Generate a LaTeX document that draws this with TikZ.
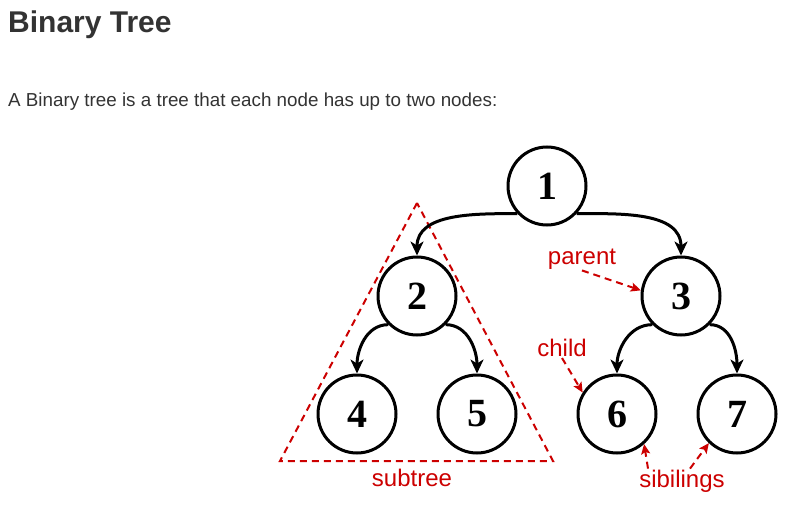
\documentclass[tikz,border=0pt]{standalone}
\usepackage{fontspec}
\setmainfont{Liberation Sans}
\newfontfamily\digitfont{Liberation Serif}
\usetikzlibrary{arrows.meta}
\definecolor{notered}{HTML}{CC0000}
\definecolor{headgray}{HTML}{333333}

\begin{document}
\begin{tikzpicture}[x=1pt,y=-1pt,
  vertex/.style={circle,draw,line width=3pt,minimum size=78pt,inner sep=0pt,
    font=\digitfont\bfseries\fontsize{40}{40}\selectfont},
  edge/.style={line width=3pt,-{Stealth[length=14pt,width=13pt,inset=4pt]}},
  note/.style={text=notered,inner sep=1pt,font=\fontsize{24}{24}\selectfont},
  hint/.style={draw=notered,line width=2pt,dash pattern=on 7pt off 5pt,
    -{Stealth[length=10pt,width=9pt,inset=2pt]}}]
\useasboundingbox (0,0) rectangle (792,508);
\node[anchor=base west,inner sep=0pt,text=headgray,font=\bfseries\fontsize{30}{30}\selectfont] (title) at (8,33) {Binary Tree};
\node[anchor=base west,inner sep=0pt,text=headgray,font=\fontsize{18.8}{18.8}\selectfont] (intro) at (8,107) {A Binary tree is a tree that each node has up to two nodes:};
% subtree outline
\draw[notered,line width=2pt,dash pattern=on 7pt off 5pt] (417,203) -- (280,461) -- (553,461) -- cycle;
% the tree
\node[vertex] (n1) at (547,186) {1};
\node[vertex] (n2) at (417,296) {2};
\node[vertex] (n3) at (681,296) {3};
\node[vertex] (n4) at (357,414) {4};
\node[vertex] (n5) at (477,414) {5};
\node[vertex] (n6) at (617,414) {6};
\node[vertex] (n7) at (737,414) {7};
\draw[edge] (n1.223) to[out=180,in=90] (n2.north);
\draw[edge] (n1.-43) to[out=0,in=90] (n3.north);
\draw[edge] (n2.225) to[out=180,in=90] (n4.north);
\draw[edge] (n2.-45) to[out=0,in=90] (n5.north);
\draw[edge] (n3.225) to[out=180,in=90] (n6.north);
\draw[edge] (n3.-45) to[out=0,in=90] (n7.north);
% labels
\node[note] (parent) at (582,259) {parent};
\node[note] (child) at (562,348) {child};
\node[note] (subtree) at (412,478) {subtree};
\node[note] (sib) at (682,481) {sibilings};
\draw[hint] (parent.south) -- (n3.172);
\draw[hint] (child.south) -- (n6.148);
\draw[hint] ([xshift=-34pt]sib.north) -- (n6.-48);
\draw[hint] ([xshift=8pt]sib.north) -- (n7.-134);
\end{tikzpicture}
\end{document}
